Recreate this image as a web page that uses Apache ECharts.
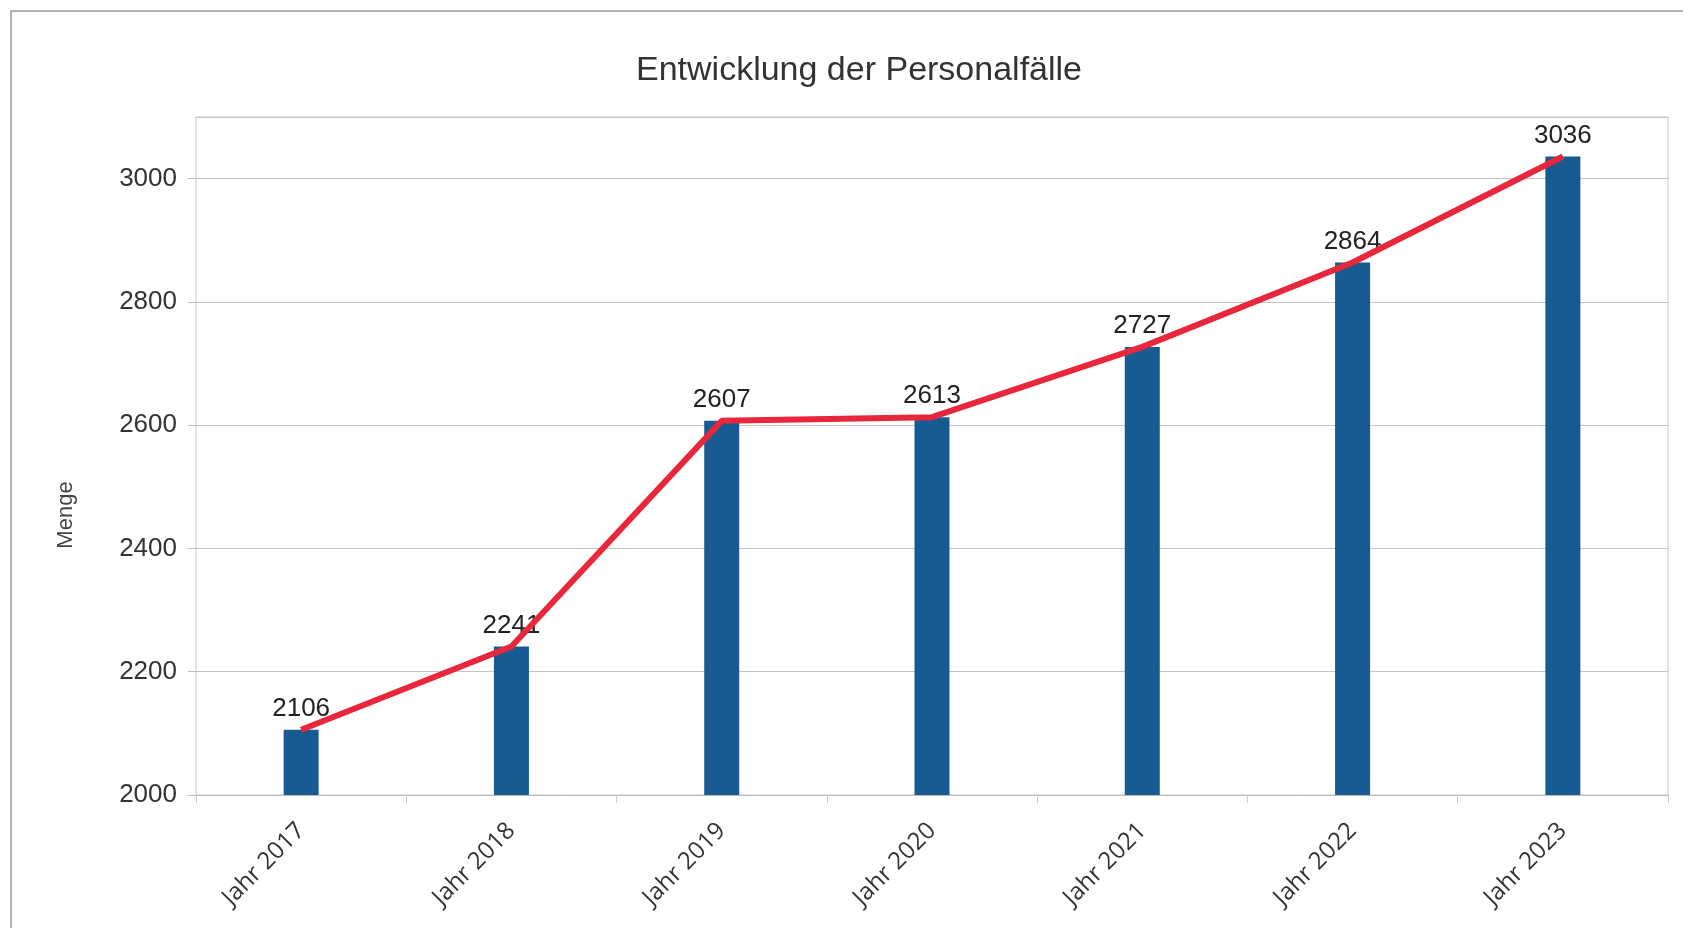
<!DOCTYPE html>
<html>
<head>
<meta charset="utf-8">
<script src="https://cdn.jsdelivr.net/npm/echarts@6/dist/echarts.min.js"></script>
<style>html,body{margin:0;padding:0;background:#fff}#chart{width:1683px;height:928px}</style>
</head>
<body>
<div id="chart"></div>
<script>
var years = ['Jahr 2017','Jahr 2018','Jahr 2019','Jahr 2020','Jahr 2021','Jahr 2022','Jahr 2023'];
var faelle = [2106, 2241, 2607, 2613, 2727, 2864, 3036];
var trend = [2106, 2241, 2607, 2613, 2727, 2864, 3036];

var chart = echarts.init(document.getElementById('chart'));
chart.setOption({
    animation:false,
    textStyle:{fontFamily:'Liberation Sans'},
    title:{text:'Entwicklung der Personalfälle',left:631,top:49,
        textStyle:{fontSize:34,fontWeight:'normal',color:'#333',fontFamily:'Liberation Sans'}},
    graphic:[
        {type:'rect',shape:{x:11,y:11,width:1700,height:940},
         style:{fill:null,stroke:'#666',lineWidth:1},silent:true},
        {type:'text',x:66,y:515,rotation:Math.PI/2,
         style:{text:'Menge',fontSize:22,fill:'#444',fontFamily:'Liberation Sans',align:'center',verticalAlign:'middle'}}
    ],
    grid:{left:196,right:15,top:117,bottom:133,show:true,borderColor:'#c8c8c8',borderWidth:1},
    xAxis:{type:'category',data:years,
        axisLine:{lineStyle:{color:'#bbb'}},
        axisTick:{show:true,length:8,lineStyle:{color:'#ccc'}},
        axisLabel:{rotate:45,fontSize:24,color:'#333',margin:32,fontFamily:'Open Sans'}},
    yAxis:{type:'value',min:2000,max:3100,interval:200,
        axisLine:{show:false},
        axisTick:{show:true,length:8,lineStyle:{color:'#bbb'}},
        axisLabel:{fontSize:26,color:'#333',margin:19,showMaxLabel:false,
            formatter:function(v){return v%200===0?v:'';}},
        splitLine:{show:true,lineStyle:{color:'#c4c4c4',width:1}}},
    series:[
        {type:'bar',data:faelle,barWidth:35,itemStyle:{color:'#185a92'},
         label:{show:true,position:'top',distance:8,fontSize:26,color:'#222'}},
        {type:'line',data:trend,symbol:'none',lineStyle:{color:'#e8283a',width:6},z:5}
    ]
});
</script>
</body>
</html>
